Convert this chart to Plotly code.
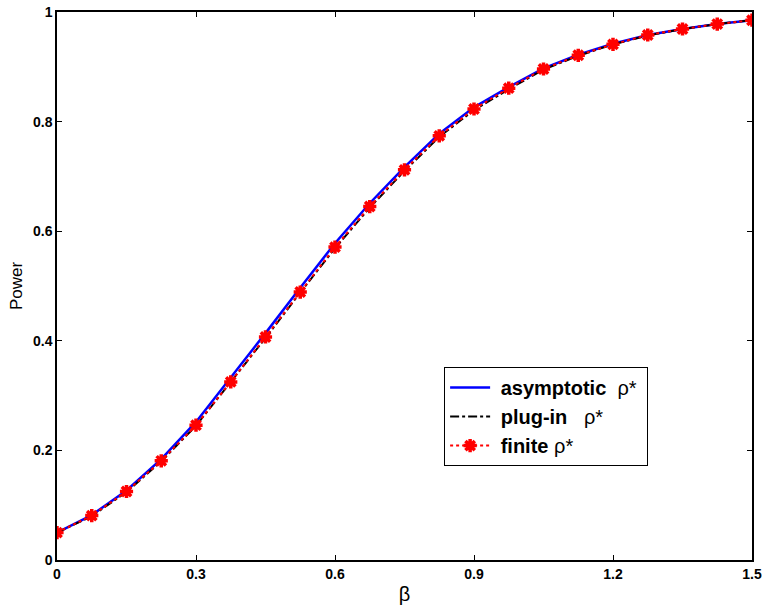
import plotly.graph_objects as go

beta = [0, 0.075, 0.15, 0.225, 0.3, 0.375, 0.45, 0.525, 0.6, 0.675, 0.75,
        0.825, 0.9, 0.975, 1.05, 1.125, 1.2, 1.275, 1.35, 1.425, 1.5]
asymptotic = [0.050, 0.082, 0.127, 0.184, 0.252, 0.332, 0.414, 0.497, 0.578, 0.651, 0.717,
              0.778, 0.826, 0.863, 0.897, 0.922, 0.942, 0.958, 0.969, 0.978, 0.985]
plugin = [0.050, 0.080, 0.124, 0.180, 0.245, 0.324, 0.405, 0.488, 0.569, 0.643, 0.710,
          0.772, 0.821, 0.859, 0.895, 0.920, 0.941, 0.957, 0.969, 0.978, 0.985]
finite = [0.050, 0.081, 0.125, 0.181, 0.246, 0.325, 0.407, 0.489, 0.571, 0.645, 0.712,
          0.774, 0.823, 0.861, 0.896, 0.921, 0.941, 0.958, 0.969, 0.978, 0.985]

xticks = [0, 0.3, 0.6, 0.9, 1.2, 1.5]
yticks = [0, 0.2, 0.4, 0.6, 0.8, 1]

FONT = "Liberation Sans, Arial, sans-serif"

fig = go.Figure()
fig.add_trace(go.Scatter(x=beta, y=asymptotic, mode="lines",
                         name="&nbsp;<b>asymptotic</b>&nbsp;&nbsp;ρ*&nbsp;",
                         line=dict(color="#0000ff", width=2.5)))
fig.add_trace(go.Scatter(x=beta, y=plugin, mode="lines",
                         name="&nbsp;<b>plug-in</b>&nbsp;&nbsp;&nbsp;ρ*",
                         line=dict(color="#000000", width=2, dash="dashdot")))
fig.add_trace(go.Scatter(x=beta, y=finite, mode="lines+markers",
                         name="&nbsp;<b>finite</b>&nbsp;ρ*",
                         line=dict(color="#ff0000", width=2, dash="dot"),
                         marker=dict(symbol="asterisk-open", size=11, color="#ff0000",
                                     line=dict(color="#ff0000", width=3.5))))

axis_common = dict(showgrid=False, zeroline=False, showline=True, linecolor="black",
                   linewidth=1.5, mirror="ticks", ticks="inside", ticklen=5,
                   tickcolor="black", automargin=False,
                   tickfont=dict(family=FONT, size=14, color="black", weight="bold"))
fig.update_xaxes(range=[0, 1.5], tickvals=xticks, ticktext=[f"<b>{v:g}</b>" for v in xticks],
                 title=dict(text="β", font=dict(family=FONT, size=20, color="black"),
                            standoff=6), **axis_common)
fig.update_yaxes(range=[0, 1], tickvals=yticks, ticktext=[f"<b>{v:g}</b>" for v in yticks],
                 title=dict(text="Power", font=dict(family=FONT, size=17, color="black"),
                            standoff=6), **axis_common)

fig.update_layout(
    width=763, height=613,
    margin=dict(l=57, r=11, t=12, b=53, autoexpand=False),
    paper_bgcolor="white", plot_bgcolor="white",
    showlegend=True,
    legend=dict(x=0.557, y=0.352, xanchor="left", yanchor="top",
                bgcolor="white", bordercolor="black", borderwidth=1,
                font=dict(family=FONT, size=20, color="black"),
                tracegroupgap=0, itemwidth=40),
)

fig.write_html("out.html", config={"displayModeBar": False},
               post_script="document.body.style.margin='0';document.body.style.overflow='hidden';")
